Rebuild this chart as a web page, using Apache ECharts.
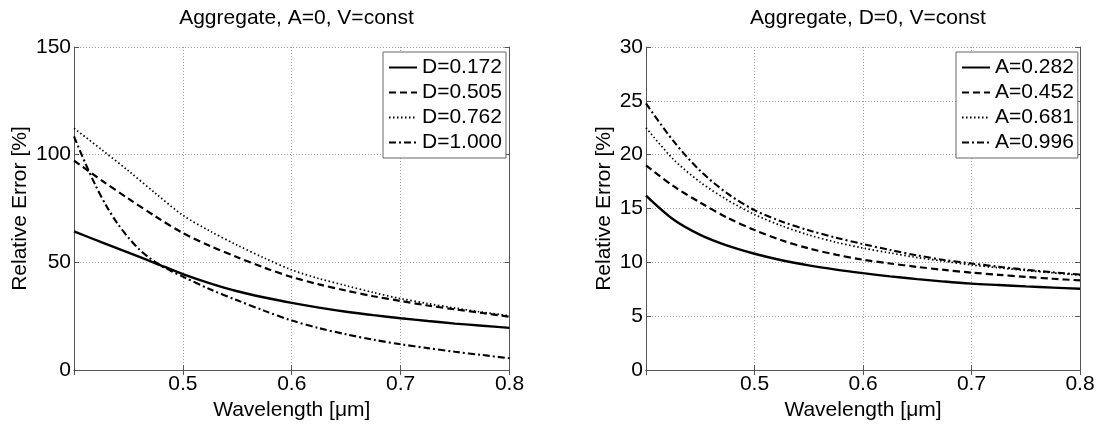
<!DOCTYPE html>
<html>
<head>
<meta charset="utf-8">
<script src="https://cdn.jsdelivr.net/npm/echarts@6/dist/echarts.min.js"></script>
<style>
html,body{margin:0;padding:0;background:#fff;}
#chart{width:1099px;height:426px;}
</style>
</head>
<body>
<div id="chart"></div>
<script>
// wavelength samples (µm)
const lambda = [0.400,0.425,0.450,0.475,0.500,0.525,0.550,0.575,0.600,0.625,0.650,0.675,0.700,0.725,0.750,0.775,0.800];
const lambdaFine = [0.40,0.41,0.42,0.43,0.44,0.45,0.46,0.47,0.48,0.49,0.50,0.525,0.55,0.575,0.60,0.625,0.65,0.675,0.70,0.725,0.75,0.775,0.80];

// Left panel: Aggregate, A=0, V=const
const D172  = [64.4,59.4,54.5,49.6,44.6,40.3,36.6,33.7,31.2,29.0,27.1,25.5,24.1,22.8,21.6,20.6,19.6];
const D505  = [97.3,88.2,79.6,71.3,63.6,57.6,52.4,47.5,43.2,39.8,36.9,34.3,32.1,30.0,28.2,26.5,24.8];
const D762  = [112.3,102.5,92.5,82.0,71.9,64.5,58.0,52.0,46.5,42.5,39.2,36.0,33.2,30.9,28.8,26.9,25.2];
const D1000 = [108.5,96.5,85.5,76,68,61.5,56,51.8,48.5,45.8,43.4,37.5,32.4,27.5,23,19.5,16.6,14.1,12,10.2,8.5,7,5.5];

// Right panel: Aggregate, D=0, V=const
const A282 = [16.2,14.0,12.55,11.55,10.8,10.2,9.72,9.33,9.0,8.7,8.45,8.22,8.03,7.9,7.77,7.66,7.55];
const A452 = [19.0,17.1,15.55,14.15,13.0,12.05,11.3,10.72,10.25,9.9,9.58,9.3,9.05,8.85,8.65,8.48,8.33];
const A681 = [22.5,19.6,17.45,15.8,14.45,13.4,12.55,11.88,11.33,10.88,10.45,10.1,9.76,9.5,9.25,9.03,8.8];
const A996 = [24.76,21.3,18.5,16.4,14.85,13.8,12.98,12.3,11.7,11.15,10.65,10.22,9.9,9.6,9.32,9.08,8.87];

const titles = ['Aggregate, A=0, V=const', 'Aggregate, D=0, V=const'];
const xName = 'Wavelength [\u03bcm]';
const yName = 'Relative Error [%]';
const namesLeft = ['D=0.172','D=0.505','D=0.762','D=1.000'];
const namesRight = ['A=0.282','A=0.452','A=0.681','A=0.996'];

const FONT = '"Liberation Sans", Arial, Helvetica, sans-serif';
const FS = 21;
const AXC = '#555';
const styles = [
  {type:'solid', width:2.4},
  {type:[7,4], width:2.2},
  {type:[1.5,2.5], width:1.7},
  {type:[7,3,2,3], width:2.1}
];

const zip = (xs, ys) => xs.map((x,i)=>[x, ys[i]]);

function xAxisMain(gi){
  return {
    type:'value', gridIndex:gi, min:0.4, max:0.8, interval:0.1,
    axisLine:{show:true, lineStyle:{color:AXC, width:1}},
    axisTick:{show:true, inside:true, length:5, lineStyle:{color:AXC}},
    axisLabel:{fontFamily:FONT, fontSize:FS, color:'#000', margin:4,
      formatter:v => (Math.abs(v-0.4)<1e-6 ? '' : v.toFixed(1))},
    splitLine:{show:true, lineStyle:{color:'#a0a0a0', type:[1,2], width:1}},
    name:xName, nameLocation:'middle', nameGap:16,
    nameTextStyle:{fontFamily:FONT, fontSize:FS, color:'#000'}
  };
}
function xAxisTop(gi){
  return {
    type:'value', gridIndex:gi, position:'top', min:0.4, max:0.8, interval:0.1,
    axisLine:{show:true, lineStyle:{color:AXC, width:1}},
    axisTick:{show:true, inside:true, length:5, lineStyle:{color:AXC}},
    axisLabel:{show:false}, splitLine:{show:false}
  };
}
function yAxisMain(gi, max, interval, gap){
  return {
    type:'value', gridIndex:gi, min:0, max:max, interval:interval,
    axisLine:{show:true, lineStyle:{color:AXC, width:1}},
    axisTick:{show:true, inside:true, length:5, lineStyle:{color:AXC}},
    axisLabel:{fontFamily:FONT, fontSize:FS, color:'#000', margin:3},
    splitLine:{show:true, lineStyle:{color:'#a0a0a0', type:[1,2], width:1}},
    name:yName, nameLocation:'middle', nameGap:gap,
    nameTextStyle:{fontFamily:FONT, fontSize:FS, color:'#000'}
  };
}
function yAxisRight(gi, max, interval){
  return {
    type:'value', gridIndex:gi, position:'right', min:0, max:max, interval:interval,
    axisLine:{show:true, lineStyle:{color:AXC, width:1}},
    axisTick:{show:true, inside:true, length:5, lineStyle:{color:AXC}},
    axisLabel:{show:false}, splitLine:{show:false}
  };
}

function mkSeries(name, data, k, gi){
  return {
    name:name, type:'line', data:data, xAxisIndex:gi, yAxisIndex:gi,
    symbol:'none', showSymbol:false, smooth:0.3, animation:false,
    lineStyle:{color:'#000', type:styles[k].type, width:styles[k].width},
    itemStyle:{color:'#000'}, z:5
  };
}

const series = [
  mkSeries(namesLeft[0], zip(lambda, D172), 0, 0),
  mkSeries(namesLeft[1], zip(lambda, D505), 1, 0),
  mkSeries(namesLeft[2], zip(lambda, D762), 2, 0),
  mkSeries(namesLeft[3], zip(lambdaFine, D1000), 3, 0),
  mkSeries(namesRight[0], zip(lambda, A282), 0, 1),
  mkSeries(namesRight[1], zip(lambda, A452), 1, 1),
  mkSeries(namesRight[2], zip(lambda, A681), 2, 1),
  mkSeries(namesRight[3], zip(lambda, A996), 3, 1)
];

function mkLegend(names, left){
  return {
    data:names, orient:'vertical', left:left, top:52,
    itemWidth:28, itemHeight:2, itemGap:4,
    padding:[5,4,5,5],
    itemStyle:{opacity:0, borderWidth:0},
    backgroundColor:'#fff', borderColor:'#666', borderWidth:1, borderRadius:0,
    textStyle:{fontFamily:FONT, fontSize:FS, color:'#000'},
    selectedMode:false
  };
}

const chart = echarts.init(document.getElementById('chart'), null, {renderer:'canvas'});
chart.setOption({
  backgroundColor:'#fff',
  animation:false,
  title:[
    {text:titles[0], left:291.5, top:3, textAlign:'center',
     textStyle:{fontFamily:FONT, fontSize:FS, fontWeight:'normal', color:'#000'}},
    {text:titles[1], left:863, top:3, textAlign:'center',
     textStyle:{fontFamily:FONT, fontSize:FS, fontWeight:'normal', color:'#000'}}
  ],
  grid:[
    {left:74, top:47, width:435.5, height:331.5, containLabel:false},
    {left:646, top:47, width:434, height:332, containLabel:false}
  ],
  xAxis:[xAxisMain(0), xAxisMain(1), xAxisTop(0), xAxisTop(1)],
  yAxis:[yAxisMain(0,150,50,43), yAxisMain(1,30,5,31), yAxisRight(0,150,50), yAxisRight(1,30,5)],
  legend:[mkLegend(namesLeft, 383), mkLegend(namesRight, 956)],
  series:series
});
</script>
</body>
</html>
